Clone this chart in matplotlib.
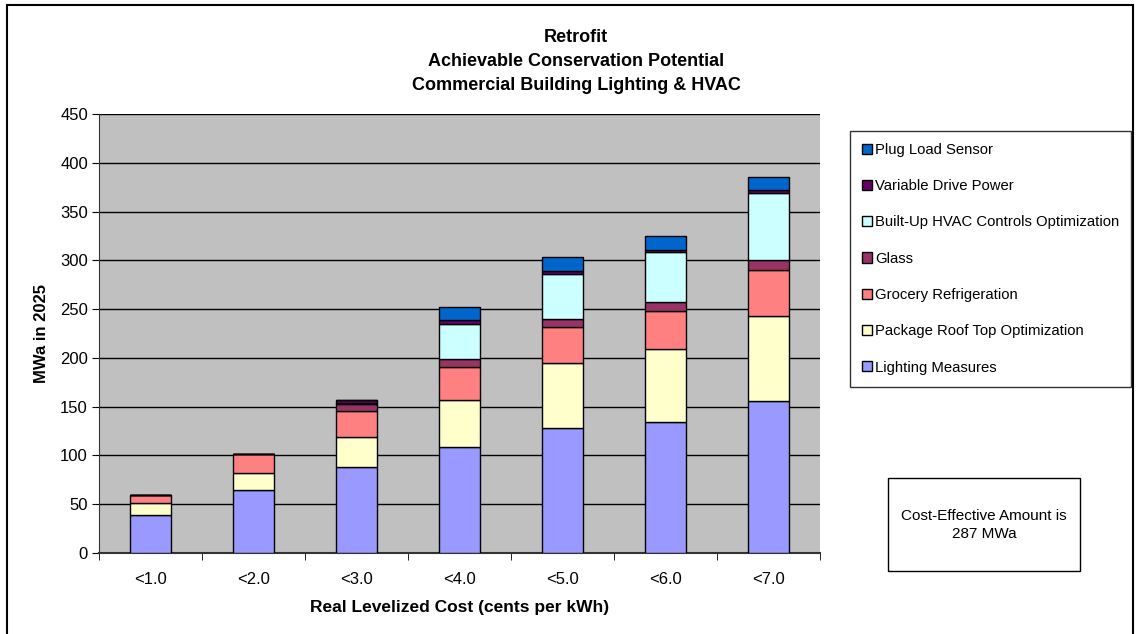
import matplotlib
matplotlib.use("Agg")
import matplotlib.pyplot as plt
from matplotlib.patches import Rectangle
import numpy as np

plt.rcParams['font.family'] = ['Liberation Sans', 'DejaVu Sans']

categories = ["<1.0", "<2.0", "<3.0", "<4.0", "<5.0", "<6.0", "<7.0"]
series_names = ["Lighting Measures", "Package Roof Top Optimization", "Grocery Refrigeration",
                "Glass", "Built-Up HVAC Controls Optimization", "Variable Drive Power", "Plug Load Sensor"]
lighting = [39, 64.5, 88, 108.3, 128.4, 134, 155.8]
package_rooftop = [12, 17, 31, 48.5, 66.7, 75.4, 87.1]
grocery = [8, 19.5, 26.5, 34.2, 36.3, 38.3, 46.9]
glass = [0, 0, 7.5, 8.2, 8.9, 9.9, 10.5]
builtup_hvac = [0, 0, 1.2, 35.5, 45.4, 50.6, 68.4]
variable_drive = [0, 0, 2.3, 4.1, 3.4, 2.7, 3.4]
plug_load = [0, 0, 0.5, 13, 14, 14, 13.6]
colors = ["#9999FF", "#FFFFCC", "#FF8080", "#993366", "#CCFFFF", "#660066", "#0066CC"]

series = [lighting, package_rooftop, grocery, glass, builtup_hvac, variable_drive, plug_load]

W, H = 1139, 634
fig = plt.figure(figsize=(W / 100, H / 100), dpi=100)
ax = fig.add_axes([99 / W, 1 - 553 / H, (820 - 99) / W, (553 - 114) / H])
ax.set_facecolor("#C0C0C0")

x = np.arange(len(categories))
bottom = np.zeros(len(categories))
handles = []
for name, vals, c in zip(series_names, series, colors):
    v = np.array(vals, dtype=float)
    b = ax.bar(x, v, width=0.4, bottom=bottom, color=c, edgecolor="black", linewidth=1.0,
               label=name, zorder=3)
    handles.append(b)
    bottom += v

ax.set_ylim(0, 450)
ax.set_xlim(-0.5, len(categories) - 0.5)
ax.set_yticks(np.arange(0, 451, 50))
ax.yaxis.grid(True, color="black", linewidth=1.0, zorder=1)
ax.set_axisbelow(True)
ax.set_xticks(x)
ax.set_xticklabels(categories, fontsize=12)
ax.tick_params(axis="x", length=0, pad=14)
ax.set_xticks(np.arange(-0.5, len(categories), 1.0), minor=True)
ax.tick_params(axis="x", which="minor", length=5, direction="out", color="black")
ax.tick_params(axis="y", length=5, direction="out", labelsize=12, pad=3)
for s in ["top", "right"]:
    ax.spines[s].set_visible(False)
ax.spines["left"].set_color("#333333")
ax.spines["bottom"].set_color("#333333")
ax.spines["bottom"].set_linewidth(1.5)

ax.set_ylabel("MWa in 2025", fontsize=12, fontweight="bold", labelpad=8)
ax.set_xlabel("Real Levelized Cost (cents per kWh)", fontsize=12.5, fontweight="bold", labelpad=9)

# Title
for txt, yp in [("Retrofit", 37), ("Achievable Conservation Potential", 61),
                ("Commercial Building Lighting & HVAC", 85)]:
    fig.text(576 / W, 1 - yp / H, txt, ha="center", va="center", fontsize=13, fontweight="bold")

# Legend
leg = fig.legend(handles[::-1], series_names[::-1], loc="upper left",
                 bbox_to_anchor=(850 / W, 1 - 131 / H), fontsize=10.7, frameon=True,
                 fancybox=False, edgecolor="black", labelspacing=1.5,
                 handlelength=0.67, handleheight=0.67, handletextpad=0.2,
                 borderpad=0.8, borderaxespad=0)
leg.get_frame().set_linewidth(1.0)

# Text box
fig.patches.append(Rectangle((888 / W, 1 - 571 / H), (1080 - 888) / W, (571 - 478) / H,
                             transform=fig.transFigure, facecolor="white", edgecolor="black",
                             linewidth=1.0))
fig.text(984 / W, 1 - 525 / H, "Cost-Effective Amount is\n287 MWa", ha="center", va="center",
         fontsize=11, linespacing=1.35)

# Figure border
fig.patches.append(Rectangle((7 / W, -0.05), (1133 - 7) / W, 1 - 5 / H + 0.05,
                             transform=fig.transFigure, facecolor="none", edgecolor="black",
                             linewidth=1.5))

fig.savefig("out.png", dpi=100)
